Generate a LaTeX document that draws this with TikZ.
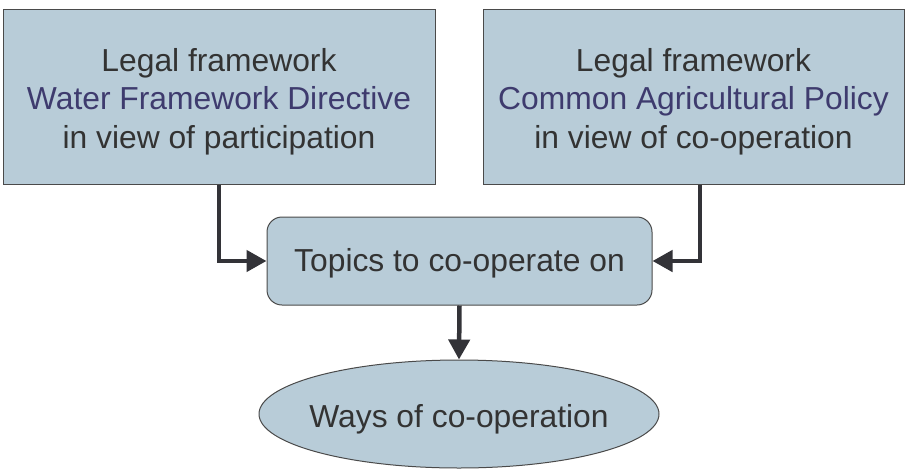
\documentclass[tikz,border=0pt]{standalone}
\usepackage{fontspec}
\setmainfont{Liberation Sans}
\usetikzlibrary{arrows.meta,shapes.geometric,calc}
\definecolor{boxfill}{HTML}{B8CCD8}
\definecolor{boxline}{HTML}{4A4A4A}
\definecolor{txt}{HTML}{333333}
\definecolor{bluetxt}{HTML}{3E3B6E}
\definecolor{arrcol}{HTML}{333338}
\begin{document}
\begin{tikzpicture}[x=1pt,y=-1pt,
  every node/.style={font=\fontsize{31.8}{38.5}\selectfont, text=txt, inner sep=0pt, align=center},
  legalbox/.style={draw=boxline, line width=1pt, fill=boxfill, minimum height=175pt},
  topicbox/.style={draw=boxline, line width=1pt, fill=boxfill, rounded corners=15pt, minimum width=385pt, minimum height=88pt},
  waysell/.style={ellipse, draw=boxline, line width=1pt, fill=boxfill, minimum width=400pt, minimum height=108pt},
  arr/.style={draw=arrcol, line width=4.5pt, -{Triangle[length=20pt,width=21pt]}}
]
\useasboundingbox (0,0) rectangle (905,469);
\node[legalbox, minimum width=432pt, label={[yshift=-5pt]center:{Legal framework\\\textcolor{bluetxt}{Water Framework Directive}\\in view of participation}}] (l) at (219,96.5) {};
\node[legalbox, minimum width=421pt, label={[yshift=-5pt]center:{Legal framework\\\textcolor{bluetxt}{Common Agricultural Policy}\\in view of co-operation}}] (r) at (693.5,96.5) {};
\node[topicbox, label={[yshift=-2pt]center:{Topics to co-operate on}}] (m) at (459.5,261) {};
\node[waysell, label={[yshift=-5pt]center:{Ways of co-operation}}] (e) at (459,414) {};
\coordinate (rs) at ([xshift=6.5pt]r.south);
\draw[arr] (l.south) |- (m.west);
\draw[arr] (rs) |- (m.east);
\draw[arr] (m.south) -- (e.north);
\end{tikzpicture}
\end{document}
